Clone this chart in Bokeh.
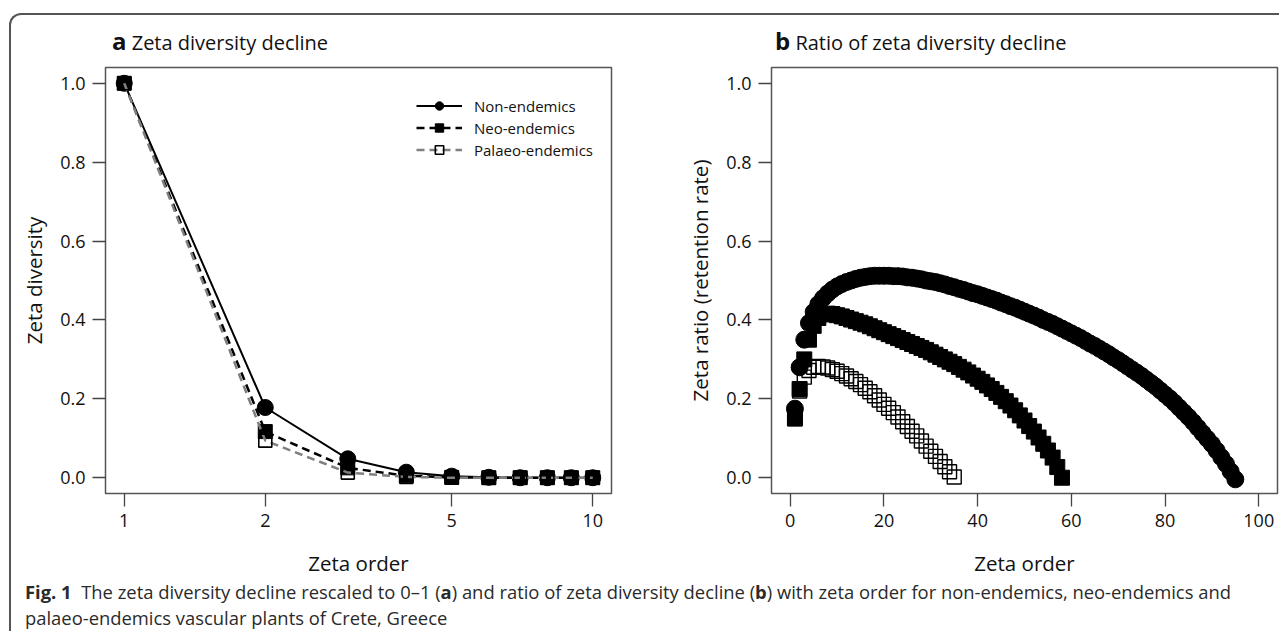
from bokeh.plotting import figure
from bokeh.models import (Range1d, FixedTicker, NumeralTickFormatter, PrintfTickFormatter,
                          Legend, LegendItem, Div)
from bokeh.layouts import row, column
from bokeh.embed import file_html
from bokeh.resources import INLINE

FONT = "Open Sans"

# ---------------- data: panel a (zeta diversity decline, rescaled 0-1) ----------------
a_order = [1, 2, 3, 4, 5, 6, 7, 8, 9, 10]
a_non = [1.0, 0.178, 0.048, 0.014, 0.004, 0.001, 0.0, 0.0, 0.0, 0.0]
a_neo = [1.0, 0.117, 0.025, 0.005, 0.001, 0.0, 0.0, 0.0, 0.0, 0.0]
a_pal = [1.0, 0.094, 0.013, 0.002, 0.0, 0.0, 0.0, 0.0, 0.0, 0.0]
a_ticks = [1, 2, 5, 10]

# ---------------- data: panel b (ratio of zeta diversity decline) ----------------
b_non = [0.175, 0.280, 0.350, 0.392, 0.420, 0.440, 0.455, 0.467, 0.477, 0.485,
         0.491, 0.496, 0.500, 0.504, 0.507, 0.509, 0.511, 0.512, 0.512, 0.512,
         0.512, 0.511, 0.511, 0.510, 0.508, 0.507, 0.505, 0.503, 0.500, 0.498,
         0.496, 0.493, 0.490, 0.486, 0.483, 0.479, 0.476, 0.472, 0.468, 0.465,
         0.461, 0.457, 0.453, 0.449, 0.444, 0.440, 0.435, 0.431, 0.426, 0.421,
         0.416, 0.411, 0.406, 0.400, 0.395, 0.390, 0.384, 0.378, 0.372, 0.366,
         0.360, 0.354, 0.347, 0.340, 0.334, 0.327, 0.320, 0.313, 0.305, 0.298,
         0.290, 0.282, 0.274, 0.266, 0.258, 0.249, 0.240, 0.231, 0.221, 0.211,
         0.201, 0.190, 0.178, 0.166, 0.154, 0.141, 0.127, 0.113, 0.099, 0.085,
         0.069, 0.052, 0.035, 0.016, -0.004]
b_neo = [0.150, 0.225, 0.300, 0.350, 0.385, 0.405, 0.414, 0.416, 0.415, 0.412,
         0.409, 0.405, 0.401, 0.397, 0.393, 0.389, 0.384, 0.379, 0.374, 0.369,
         0.364, 0.359, 0.354, 0.349, 0.344, 0.339, 0.334, 0.329, 0.324, 0.318,
         0.312, 0.306, 0.300, 0.294, 0.288, 0.281, 0.274, 0.267, 0.259, 0.251,
         0.243, 0.234, 0.225, 0.215, 0.205, 0.194, 0.183, 0.171, 0.158, 0.145,
         0.131, 0.117, 0.102, 0.086, 0.069, 0.051, 0.027, 0.000]
b_pal = [0.150, 0.220, 0.255, 0.272, 0.280, 0.282, 0.281, 0.278, 0.274, 0.270,
         0.264, 0.258, 0.251, 0.244, 0.236, 0.227, 0.218, 0.208, 0.197, 0.186,
         0.176, 0.165, 0.154, 0.142, 0.130, 0.118, 0.106, 0.093, 0.080, 0.067,
         0.054, 0.041, 0.028, 0.015, 0.002]
b_non_order = list(range(1, len(b_non) + 1))
b_neo_order = list(range(1, len(b_neo) + 1))
b_pal_order = list(range(1, len(b_pal) + 1))
b_ticks = [0, 20, 40, 60, 80, 100]
y_ticks = [0.0, 0.2, 0.4, 0.6, 0.8, 1.0]


def style(p):
    p.outline_line_color = "#555555"
    p.outline_line_width = 1.5
    p.xgrid.visible = False
    p.ygrid.visible = False
    p.background_fill_color = "white"
    p.border_fill_color = "white"
    for ax in list(p.xaxis) + list(p.yaxis):
        ax.axis_line_color = None
        ax.major_tick_line_color = "#444444"
        ax.major_tick_line_width = 1.3
        ax.major_tick_out = 13
        ax.major_tick_in = 0
        ax.minor_tick_line_color = None
        ax.major_label_text_font = FONT
        ax.major_label_text_font_size = "18px"
        ax.major_label_text_color = "#111111"
        ax.major_label_standoff = 7
        ax.axis_label_text_font = FONT
        ax.axis_label_text_font_size = "20.5px"
        ax.axis_label_text_font_style = "normal"
        ax.axis_label_text_color = "#111111"
    p.yaxis.ticker = FixedTicker(ticks=y_ticks)
    p.yaxis.formatter = NumeralTickFormatter(format="0.0")
    p.yaxis.axis_label_standoff = 9
    p.xaxis.axis_label_standoff = 19


# ---------------- panel a ----------------
pa = figure(output_backend="svg", toolbar_location=None, title=None,
            x_axis_type="log",
            x_range=Range1d(10 ** -0.04, 10 ** 1.04), y_range=Range1d(-0.04, 1.04),
            frame_width=506, frame_height=426,
            min_border_left=94, min_border_right=29, min_border_top=8, min_border_bottom=86)
style(pa)
pa.xaxis.ticker = FixedTicker(ticks=a_ticks)
pa.xaxis.formatter = PrintfTickFormatter(format="%d")
pa.xaxis.axis_label = "Zeta order"
pa.yaxis.axis_label = "Zeta diversity"

l_non = pa.line(a_order, a_non, line_color="black", line_width=2)
m_non = pa.scatter(a_order, a_non, marker="circle", size=16, color="black")
l_neo = pa.line(a_order, a_neo, line_color="black", line_width=2.5, line_dash="8 5")
m_neo = pa.scatter(a_order, a_neo, marker="square", size=14, color="black")
l_pal = pa.line(a_order, a_pal, line_color="#808080", line_width=2.5, line_dash="8 5")
m_pal = pa.scatter(a_order, a_pal, marker="square", size=13, fill_color=None,
                   line_color="black", line_width=1.6)

legend = Legend(items=[
    LegendItem(label="Non-endemics", renderers=[l_non, m_non]),
    LegendItem(label="Neo-endemics", renderers=[l_neo, m_neo]),
    LegendItem(label="Palaeo-endemics", renderers=[l_pal, m_pal]),
], location=(311, 333))
legend.border_line_color = None
legend.background_fill_alpha = 0
legend.padding = 0
legend.margin = 0
legend.spacing = 1
legend.glyph_width = 46
legend.glyph_height = 21
legend.label_height = 21
legend.label_standoff = 12
legend.label_text_font = FONT
legend.label_text_font_size = "15px"
legend.label_text_color = "#111111"
pa.add_layout(legend)

# ---------------- panel b ----------------
pb = figure(output_backend="svg", toolbar_location=None, title=None,
            x_range=Range1d(-4, 104), y_range=Range1d(-0.04, 1.04),
            frame_width=506, frame_height=426,
            min_border_left=131, min_border_right=2, min_border_top=8, min_border_bottom=86)
style(pb)
pb.xaxis.ticker = FixedTicker(ticks=b_ticks)
pb.xaxis.formatter = PrintfTickFormatter(format="%d")
pb.xaxis.axis_label = "Zeta order"
pb.yaxis.axis_label = "Zeta ratio (retention rate)"

pb.scatter(b_non_order, b_non, marker="circle", size=17, color="black")
pb.scatter(b_neo_order, b_neo, marker="square", size=15, color="black")
pb.scatter(b_pal_order, b_pal, marker="square", size=14, fill_color=None,
           line_color="black", line_width=1.4)

TITLE_STYLE = ("font-family:'Open Sans';color:#111111;line-height:30px;"
               "padding-top:11px;white-space:nowrap;")
title_a = Div(text=('<div style="' + TITLE_STYLE + 'padding-left:101px;">'
                    '<span style="font-weight:bold;font-size:24px;">a</span>'
                    '<span style="font-size:20px;">&nbsp;Zeta diversity decline</span></div>'),
              width=629, height=44, margin=0)
title_b = Div(text=('<div style="' + TITLE_STYLE + 'padding-left:135px;">'
                    '<span style="font-weight:bold;font-size:24px;">b</span>'
                    '<span style="font-size:20px;">&nbsp;Ratio of zeta diversity decline</span></div>'),
              width=639, height=44, margin=0)

caption = Div(
    text=('<div style="font-family:\'Open Sans\';font-size:18.4px;line-height:26px;'
          'color:#2a2a2a;padding-left:14px;white-space:nowrap;">'
          '<b>Fig. 1</b>&nbsp;&nbsp;The zeta diversity decline rescaled to 0–1 (<b>a</b>) and ratio of '
          'zeta diversity decline (<b>b</b>) with zeta order for non-endemics, neo-endemics and<br>'
          'palaeo-endemics vascular plants of Crete, Greece</div>'),
    width=1268, height=52, margin=0)

layout = column(row(title_a, title_b), row(pa, pb), caption,
                styles={"border-top": "2px solid #555555", "border-left": "2px solid #555555",
                        "border-top-left-radius": "12px", "margin-top": "13px",
                        "margin-left": "9px"})

open("out.html", "w").write(file_html(layout, INLINE))
